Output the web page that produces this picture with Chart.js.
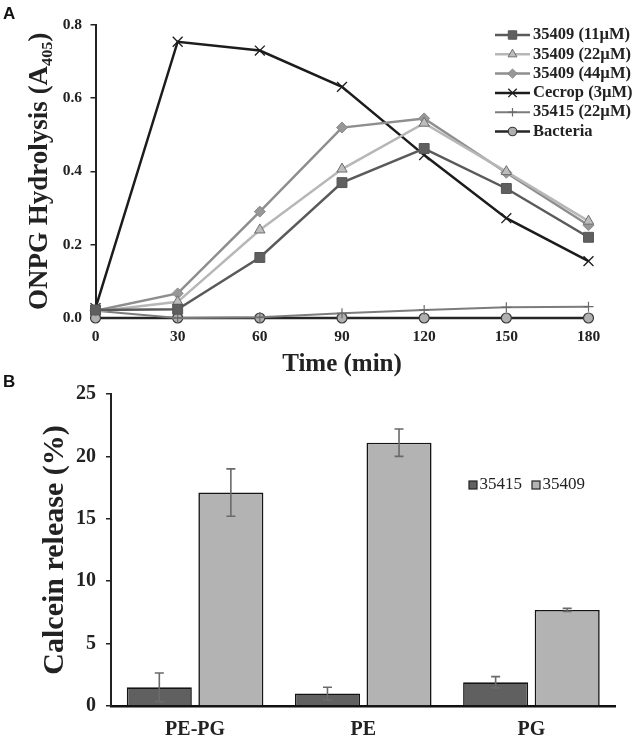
<!DOCTYPE html>
<html lang="en">
<head>
    <meta charset="UTF-8" />
    <title>ONPG hydrolysis and calcein release</title>
    <script src="https://cdn.jsdelivr.net/npm/chart.js"></script>
    <style>
        html, body { margin: 0; padding: 0; background: #fff; }
        #page { position: relative; width: 634px; height: 741px; overflow: hidden; }
        canvas { position: absolute; left: 0; }
        #chartA { top: 0; }
        #chartB { top: 372px; }
        .panel { position: absolute; left: 3px; font: bold 17px "Liberation Sans", Arial, sans-serif; color: #111; line-height: 1; }
    </style>
</head>
<body>
<div id="page">
    <canvas id="chartA" width="634" height="380"></canvas>
    <canvas id="chartB" width="634" height="369"></canvas>
    <div class="panel" style="top:5px">A</div>
    <div class="panel" style="top:373px">B</div>
</div>

<script>
    // Panel A: ONPG hydrolysis over time
    const times = ['0', '30', '60', '90', '120', '150', '180'];
    const p35409_11 = [0.022, 0.024, 0.165, 0.369, 0.462, 0.353, 0.220];
    const p35409_22 = [0.018, 0.044, 0.240, 0.406, 0.531, 0.399, 0.264];
    const p35409_44 = [0.020, 0.067, 0.290, 0.519, 0.544, 0.396, 0.253];
    const cecrop = [0.027, 0.753, 0.729, 0.630, 0.444, 0.272, 0.155];
    const p35415_22 = [0.020, 0.000, 0.002, 0.013, 0.022, 0.029, 0.031];
    const bacteria = [0, 0, 0, 0, 0, 0, 0];
    const yTicksA = [0, 0.2, 0.4, 0.6, 0.8];

    // Panel B: calcein release
    const lipids = ['PE-PG', 'PE', 'PG'];
    const rel35415 = [1.5, 1.0, 1.9];
    const err35415 = [1.15, 0.5, 0.45];
    const rel35409 = [17.1, 21.1, 7.7];
    const err35409 = [1.9, 1.1, 0.12];

    const serif = '"Liberation Serif", "Times New Roman", serif';
    const ink = '#222';

    // legend with a short line and the marker in the middle
    const lineLegend = {
        id: 'lineLegend',
        afterDraw(chart, args, opts) {
            const ctx = chart.ctx;
            ctx.save();
            chart.data.datasets.forEach((ds, i) => {
                const y = opts.top + i * opts.step;
                ctx.strokeStyle = ds.borderColor;
                ctx.lineWidth = ds.borderWidth;
                ctx.beginPath();
                ctx.moveTo(opts.left, y);
                ctx.lineTo(opts.left + opts.length, y);
                ctx.stroke();
                ctx.fillStyle = ds.pointBackgroundColor;
                ctx.strokeStyle = ds.pointBorderColor;
                ctx.lineWidth = ds.pointBorderWidth;
                Chart.helpers.drawPoint(ctx, {
                    pointStyle: ds.pointStyle,
                    radius: ds.pointRadius * 0.85,
                    rotation: 0,
                    borderWidth: ds.pointBorderWidth
                }, opts.left + opts.length / 2, y);
                ctx.fillStyle = ink;
                ctx.font = 'bold 16.5px ' + serif;
                ctx.textAlign = 'left';
                ctx.textBaseline = 'middle';
                ctx.fillText(ds.label, opts.left + opts.length + 3, y);
            });
            ctx.restore();
        }
    };

    const chartA = new Chart(document.getElementById('chartA'), {
        type: 'line',
        data: {
            labels: times,
            datasets: [
                { label: '35409 (11µM)', data: p35409_11, borderColor: '#5a5a5a', borderWidth: 2.5,
                  pointStyle: 'rect', pointRadius: 7, pointBackgroundColor: '#5f5f5f', pointBorderColor: '#555', pointBorderWidth: 1 },
                { label: '35409 (22µM)', data: p35409_22, borderColor: '#b7b7b7', borderWidth: 2.5,
                  pointStyle: 'triangle', pointRadius: 6, pointBackgroundColor: '#bdbdbd', pointBorderColor: '#6f6f6f', pointBorderWidth: 1 },
                { label: '35409 (44µM)', data: p35409_44, borderColor: '#8e8e8e', borderWidth: 2.5,
                  pointStyle: 'rectRot', pointRadius: 5.5, pointBackgroundColor: '#979797', pointBorderColor: '#8a8a8a', pointBorderWidth: 1 },
                { label: 'Cecrop (3µM)', data: cecrop, borderColor: '#1c1c1c', borderWidth: 2.5,
                  pointStyle: 'crossRot', pointRadius: 7, pointBackgroundColor: '#1c1c1c', pointBorderColor: '#1c1c1c', pointBorderWidth: 1.3 },
                { label: '35415 (22µM)', data: p35415_22, borderColor: '#7c7c7c', borderWidth: 2,
                  pointStyle: 'cross', pointRadius: 5, pointBackgroundColor: '#7c7c7c', pointBorderColor: '#6a6a6a', pointBorderWidth: 1.2 },
                { label: 'Bacteria', data: bacteria, borderColor: '#262626', borderWidth: 2.5,
                  pointStyle: 'circle', pointRadius: 5, pointBackgroundColor: '#b0b0b0', pointBorderColor: '#3a3a3a', pointBorderWidth: 1.2 }
            ].map(d => Object.assign(d, { tension: 0, clip: false, fill: false, pointHoverRadius: d.pointRadius }))
        },
        plugins: [lineLegend],
        options: {
            responsive: false,
            animation: false,
            events: [],
            layout: { padding: { left: 0, right: 45.5, top: 24.5, bottom: 0 } },
            scales: {
                x: {
                    type: 'category',
                    grid: { display: false, drawTicks: false },
                    border: { display: true, color: '#222', width: 2 },
                    ticks: { padding: 10, color: ink, font: { family: serif, size: 15.5, weight: 'bold' } },
                    title: { display: true, text: 'Time (min)', color: ink, padding: 0,
                             font: { family: serif, size: 25, weight: 'bold' } },
                    afterFit: s => { s.height = 62; }
                },
                y: {
                    min: 0,
                    max: 0.8,
                    afterBuildTicks: s => { s.ticks = yTicksA.map(v => ({ value: v })); },
                    grid: { drawOnChartArea: false, drawTicks: true, tickLength: 5, color: '#222', lineWidth: 1.5 },
                    border: { display: true, color: '#222', width: 2 },
                    ticks: { padding: 8.5, color: ink, font: { family: serif, size: 15.5, weight: 'bold' },
                             callback: v => Number(v).toFixed(1) },
                    title: { display: true, text: 'ONPG Hydrolysis (A₄₀₅)', color: ink,
                             padding: { top: 24.2, bottom: 0 },
                             font: { family: serif, size: 27, weight: 'bold' } },
                    afterFit: s => { s.width = 95.5; }
                }
            },
            plugins: {
                legend: { display: false },
                tooltip: { enabled: false },
                lineLegend: { left: 495, length: 35, top: 35, step: 19.3 }
            }
        }
    });

    // error bars on top of the bars
    const errorBars = {
        id: 'errorBars',
        afterDatasetsDraw(chart, args, opts) {
            const ctx = chart.ctx;
            const yScale = chart.scales.y;
            ctx.save();
            ctx.strokeStyle = '#6a6a6a';
            ctx.lineWidth = 1.6;
            chart.data.datasets.forEach((ds, i) => {
                const errs = opts.errors[i];
                chart.getDatasetMeta(i).data.forEach((bar, j) => {
                    const hi = yScale.getPixelForValue(ds.data[j] + errs[j]);
                    const lo = yScale.getPixelForValue(ds.data[j] - errs[j]);
                    ctx.beginPath();
                    ctx.moveTo(bar.x, hi); ctx.lineTo(bar.x, lo);
                    ctx.moveTo(bar.x - 4.5, hi); ctx.lineTo(bar.x + 4.5, hi);
                    ctx.moveTo(bar.x - 4.5, lo); ctx.lineTo(bar.x + 4.5, lo);
                    ctx.stroke();
                });
            });
            ctx.restore();
        }
    };

    const boxLegend = {
        id: 'boxLegend',
        afterDraw(chart, args, opts) {
            const ctx = chart.ctx;
            ctx.save();
            ctx.font = '17px ' + serif;
            ctx.textBaseline = 'middle';
            ctx.textAlign = 'left';
            let x = opts.left;
            chart.data.datasets.forEach(ds => {
                ctx.fillStyle = ds.backgroundColor;
                ctx.fillRect(x, opts.top - 4, 8, 8);
                ctx.strokeStyle = '#222';
                ctx.lineWidth = 1.2;
                ctx.strokeRect(x, opts.top - 4, 8, 8);
                ctx.fillStyle = ink;
                ctx.fillText(ds.label, x + 10.5, opts.top);
                x += 10.5 + ctx.measureText(ds.label).width + 10;
            });
            ctx.restore();
        }
    };

    const chartB = new Chart(document.getElementById('chartB'), {
        type: 'bar',
        data: {
            labels: lipids,
            datasets: [
                { label: '35415', data: rel35415, backgroundColor: '#606060' },
                { label: '35409', data: rel35409, backgroundColor: '#b3b3b3' }
            ].map(d => Object.assign(d, { borderColor: '#141414', borderWidth: 1.6,
                                         categoryPercentage: 0.851, barPercentage: 0.909 }))
        },
        plugins: [errorBars, boxLegend],
        options: {
            responsive: false,
            animation: false,
            events: [],
            layout: { padding: { left: 0, right: 18.5, top: 22, bottom: 0 } },
            scales: {
                x: {
                    grid: { display: false, drawTicks: false },
                    border: { display: true, color: '#111', width: 2.5 },
                    ticks: { padding: 12, color: ink, font: { family: serif, size: 20, weight: 'bold' } },
                    afterFit: s => { s.height = 35; }
                },
                y: {
                    min: 0,
                    max: 25,
                    ticks: { stepSize: 5, padding: 10, color: ink, font: { family: serif, size: 20, weight: 'bold' } },
                    grid: { drawOnChartArea: false, drawTicks: true, tickLength: 5, color: '#222', lineWidth: 1.5 },
                    border: { display: true, color: '#222', width: 2 },
                    title: { display: true, text: 'Calcein release (%)', color: ink,
                             padding: { top: 37, bottom: 0 },
                             font: { family: serif, size: 30, weight: 'bold' } },
                    afterFit: s => { s.width = 111; }
                }
            },
            plugins: {
                legend: { display: false },
                tooltip: { enabled: false },
                errorBars: { errors: [err35415, err35409] },
                boxLegend: { left: 469, top: 113 }
            }
        }
    });
</script>
</body>
</html>
